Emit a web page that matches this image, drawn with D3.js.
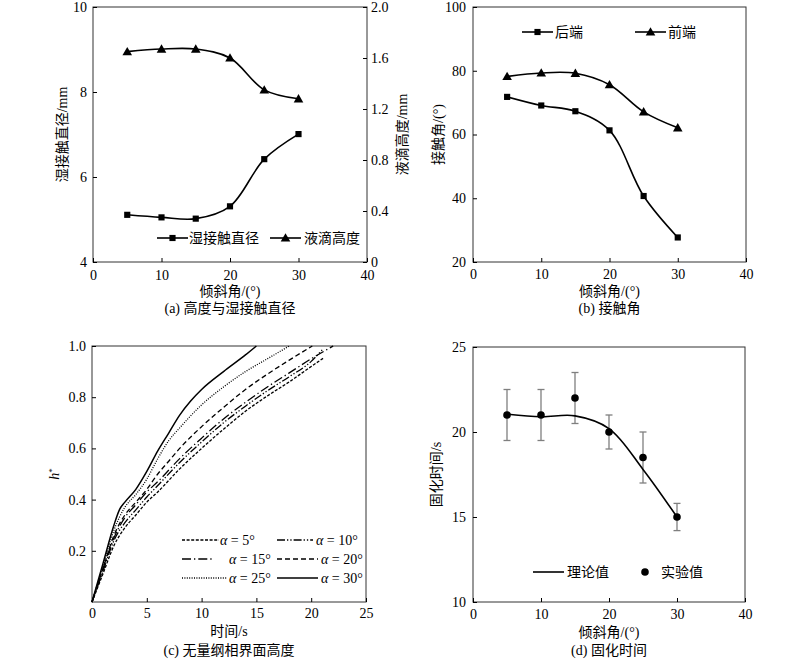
<!DOCTYPE html>
<html>
<head>
<meta charset="utf-8">
<script src="https://cdn.jsdelivr.net/npm/d3@7"></script>
<style>
  body { margin: 0; background: #fff; }
  text { font-family: "Liberation Serif", "Noto Sans CJK SC", serif; fill: #000; }
  .axis path, .axis line { stroke: #000; stroke-width: 1; }
  .axis text { font-size: 14px; }
</style>
</head>
<body>
<svg id="chart" width="800" height="659"></svg>
<script>
// (a) and (b): tilt angle data
var angles = [5, 10, 15, 20, 25, 30];
var wetDiameter = [5.11, 5.05, 5.02, 5.31, 6.42, 7.01];
var dropHeight = [1.65, 1.67, 1.67, 1.60, 1.35, 1.28];
var rearAngle = [71.8, 69.1, 67.3, 61.3, 40.7, 27.7];
var frontAngle = [78.2, 79.3, 79.2, 75.6, 67.1, 62.1];

// (c): dimensionless interface height vs time
var t5 = [0, 1, 2, 3, 4, 5, 6, 8, 10, 12, 14, 16, 18, 20, 21.2];
var h5 = [0, 0.11, 0.22, 0.29, 0.34, 0.39, 0.43, 0.52, 0.60, 0.675, 0.745, 0.805, 0.86, 0.92, 0.955];
var t10 = [0, 1, 2, 3, 4, 5, 6, 8, 10, 12, 14, 16, 18, 20, 21];
var h10 = [0, 0.12, 0.24, 0.31, 0.36, 0.41, 0.455, 0.545, 0.625, 0.70, 0.765, 0.825, 0.88, 0.94, 0.985];
var t15 = [0, 1, 2, 3, 4, 5, 6, 8, 10, 12, 14, 16, 18, 20, 22];
var h15 = [0, 0.13, 0.25, 0.33, 0.38, 0.43, 0.47, 0.56, 0.64, 0.715, 0.78, 0.84, 0.895, 0.95, 1.0];
var t20 = [0, 1, 2, 3, 4, 5, 6, 7, 8, 10, 12, 14, 16, 18, 20.1];
var h20 = [0, 0.13, 0.26, 0.34, 0.39, 0.44, 0.50, 0.55, 0.60, 0.685, 0.76, 0.83, 0.89, 0.945, 1.0];
var t25 = [0, 1, 2, 3, 4, 5, 6, 7, 8, 10, 12, 14, 16, 18];
var h25 = [0, 0.14, 0.28, 0.37, 0.42, 0.48, 0.56, 0.63, 0.68, 0.77, 0.84, 0.90, 0.95, 1.0];
var t30 = [0, 1, 2, 2.5, 3, 4, 5, 6, 7, 8, 9, 10, 12, 14, 15];
var h30 = [0, 0.15, 0.30, 0.36, 0.39, 0.44, 0.51, 0.59, 0.66, 0.73, 0.785, 0.83, 0.90, 0.965, 1.0];
var alphaLabels = ["α = 5°", "α = 10°", "α = 15°", "α = 20°", "α = 25°", "α = 30°"];

// (d): solidification time
var timeTheory = [21.05, 20.9, 20.95, 20.2, 17.8, 15.0];
var timeExp = [21, 21, 22, 20, 18.5, 15];
var expLow = [19.5, 19.5, 20.5, 19.0, 17.0, 14.2];
var expHigh = [22.5, 22.5, 23.5, 21.0, 20.0, 15.8];

var svg = d3.select("#chart");
svg.append("rect").attr("width", 800).attr("height", 659).attr("fill", "#fff");

function zip(xs, ys) {
    return xs.map(function (d, i) { return [d, ys[i]]; });
}

// frame + inner ticks for one panel
function panel(box, xDom, xTicks, yDom, yTicks, opt) {
    var g = svg.append("g");
    var x = d3.scaleLinear().domain(xDom).range([box.x0, box.x1]);
    var y = d3.scaleLinear().domain(yDom).range([box.y1, box.y0]);

    g.append("rect")
        .attr("x", box.x0).attr("y", box.y0)
        .attr("width", box.x1 - box.x0).attr("height", box.y1 - box.y0)
        .attr("fill", "none").attr("stroke", "#333").attr("stroke-width", 1);

    g.append("g").attr("class", "axis")
        .attr("transform", "translate(0," + box.y1 + ")")
        .call(d3.axisBottom(x).tickValues(xTicks).tickSizeInner(-4).tickSizeOuter(0).tickPadding(opt.xPad))
        .call(function (s) { s.select(".domain").remove(); });

    g.append("g").attr("class", "axis")
        .attr("transform", "translate(" + box.x0 + ",0)")
        .call(d3.axisLeft(y).tickValues(yTicks).tickFormat(opt.yFmt || d3.format("d"))
            .tickSizeInner(-4).tickSizeOuter(0).tickPadding(opt.yPad))
        .call(function (s) { s.select(".domain").remove(); });

    var cx = (box.x0 + box.x1) / 2;
    g.append("text").attr("x", cx).attr("y", opt.titleY)
        .attr("text-anchor", "middle").style("font-size", "14px").text(opt.xTitle);
    g.append("text").attr("x", cx).attr("y", opt.capY)
        .attr("text-anchor", "middle").style("font-size", "14px").text(opt.caption);

    var yt = g.append("text")
        .attr("transform", "translate(" + opt.yTitleX + "," + ((box.y0 + box.y1) / 2) + ") rotate(-90)")
        .attr("text-anchor", "middle").attr("dy", "0.35em").style("font-size", "14px");
    if (opt.yTitleItalic) {
        yt.append("tspan").style("font-style", "italic").text("h");
        yt.append("tspan").attr("dy", "-0.45em").style("font-size", "9px").text("*");
    } else {
        yt.text(opt.yTitle);
    }
    return { g: g, x: x, y: y };
}

function marker(g, type, px, py) {
    var sym = type === "square" ? d3.symbolSquare : d3.symbolTriangle;
    var size = type === "square" ? 38 : 40;
    g.append("path")
        .attr("d", d3.symbol().type(sym).size(size)())
        .attr("transform", "translate(" + px + "," + (type === "square" ? py : py + 0.8) + ")")
        .attr("fill", "#000");
}

var smooth = d3.curveCatmullRom.alpha(0.5);

// ---------- (a) ----------
var boxA = { x0: 93, x1: 367, y0: 7, y1: 262 };
var pa = panel(boxA, [0, 40], [0, 10, 20, 30, 40], [4, 10], [4, 6, 8, 10], {
    xPad: 8, yPad: 6, titleY: 296, capY: 313,
    xTitle: "倾斜角/(°)", caption: "(a) 高度与湿接触直径",
    yTitleX: 62, yTitle: "湿接触直径/mm"
});
var yA2 = d3.scaleLinear().domain([0, 2]).range([boxA.y1, boxA.y0]);
pa.g.append("g").attr("class", "axis")
    .attr("transform", "translate(" + boxA.x1 + ",0)")
    .call(d3.axisRight(yA2).tickValues([0, 0.4, 0.8, 1.2, 1.6, 2.0])
        .tickFormat(function (d) { return d === 0 ? "0" : d3.format(".1f")(d); })
        .tickSizeInner(-4).tickSizeOuter(0).tickPadding(4))
    .call(function (s) { s.select(".domain").remove(); });
pa.g.append("text")
    .attr("transform", "translate(402," + ((boxA.y0 + boxA.y1) / 2) + ") rotate(-90)")
    .attr("text-anchor", "middle").attr("dy", "0.35em").style("font-size", "14px")
    .text("液滴高度/mm");

var lineA1 = d3.line().x(function (d) { return pa.x(d[0]); }).y(function (d) { return pa.y(d[1]); }).curve(smooth);
var lineA2 = d3.line().x(function (d) { return pa.x(d[0]); }).y(function (d) { return yA2(d[1]); }).curve(smooth);
pa.g.append("path").attr("d", lineA1(zip(angles, wetDiameter)))
    .attr("fill", "none").attr("stroke", "#000").attr("stroke-width", 1.6);
pa.g.append("path").attr("d", lineA2(zip(angles, dropHeight)))
    .attr("fill", "none").attr("stroke", "#000").attr("stroke-width", 1.6);
angles.forEach(function (a, i) {
    marker(pa.g, "square", pa.x(a), pa.y(wetDiameter[i]));
    marker(pa.g, "triangle", pa.x(a), yA2(dropHeight[i]));
});
// legend (a)
[["square", 157, 189, "湿接触直径"], ["triangle", 270, 304, "液滴高度"]].forEach(function (l) {
    pa.g.append("line").attr("x1", l[1]).attr("x2", l[1] + 31).attr("y1", 238).attr("y2", 238)
        .attr("stroke", "#000").attr("stroke-width", 1.6);
    marker(pa.g, l[0], l[1] + 15.5, 238);
    pa.g.append("text").attr("x", l[2]).attr("y", 238).attr("dy", "0.36em")
        .style("font-size", "14px").text(l[3]);
});

// ---------- (b) ----------
var boxB = { x0: 473, x1: 746, y0: 7, y1: 262 };
var pb = panel(boxB, [0, 40], [0, 10, 20, 30, 40], [20, 100], [20, 40, 60, 80, 100], {
    xPad: 7, yPad: 7, titleY: 296, capY: 313,
    xTitle: "倾斜角/(°)", caption: "(b) 接触角",
    yTitleX: 438, yTitle: "接触角/(°)"
});
var lineB = d3.line().x(function (d) { return pb.x(d[0]); }).y(function (d) { return pb.y(d[1]); }).curve(smooth);
[rearAngle, frontAngle].forEach(function (s) {
    pb.g.append("path").attr("d", lineB(zip(angles, s)))
        .attr("fill", "none").attr("stroke", "#000").attr("stroke-width", 1.6);
});
angles.forEach(function (a, i) {
    marker(pb.g, "square", pb.x(a), pb.y(rearAngle[i]));
    marker(pb.g, "triangle", pb.x(a), pb.y(frontAngle[i]));
});
[["square", 522, 555, "后端"], ["triangle", 635, 668, "前端"]].forEach(function (l) {
    pb.g.append("line").attr("x1", l[1]).attr("x2", l[1] + 31).attr("y1", 32).attr("y2", 32)
        .attr("stroke", "#000").attr("stroke-width", 1.6);
    marker(pb.g, l[0], l[1] + 15.5, 32);
    pb.g.append("text").attr("x", l[2]).attr("y", 32).attr("dy", "0.36em")
        .style("font-size", "14px").text(l[3]);
});

// ---------- (c) ----------
var boxC = { x0: 92, x1: 366, y0: 346, y1: 602 };
var pc = panel(boxC, [0, 25], [0, 5, 10, 15, 20, 25], [0, 1], [0.2, 0.4, 0.6, 0.8, 1.0], {
    xPad: 6, yPad: 6, titleY: 636, capY: 655, yFmt: d3.format(".1f"),
    xTitle: "时间/s", caption: "(c) 无量纲相界面高度",
    yTitleX: 54, yTitleItalic: true
});
var curvesC = [zip(t5, h5), zip(t10, h10), zip(t15, h15), zip(t20, h20), zip(t25, h25), zip(t30, h30)];
var dashC = ["3,1.6", "8,2,1.3,2,1.3,2", "9,3,1.3,3", "5,3", "1,1.4", null];
var lineC = d3.line().x(function (d) { return pc.x(d[0]); }).y(function (d) { return pc.y(d[1]); }).curve(d3.curveMonotoneX);
curvesC.forEach(function (c, i) {
    pc.g.append("path").attr("d", lineC(c))
        .attr("fill", "none").attr("stroke", "#000")
        .attr("stroke-width", i === 5 ? 1.5 : 1.3)
        .attr("stroke-dasharray", dashC[i]);
});
// legend (c)
var legC = [
    { x1: 182, x2: 219, tx: 220, y: 540 }, { x1: 277, x2: 313, tx: 316, y: 540 },
    { x1: 182, x2: 213, tx: 229, y: 559 }, { x1: 277, x2: 318, tx: 321, y: 559 },
    { x1: 182, x2: 227, tx: 229, y: 578 }, { x1: 277, x2: 318, tx: 321, y: 578 }
];
legC.forEach(function (l, i) {
    pc.g.append("line").attr("x1", l.x1).attr("x2", l.x2).attr("y1", l.y).attr("y2", l.y)
        .attr("stroke", "#000").attr("stroke-width", i === 5 ? 1.5 : 1.3)
        .attr("stroke-dasharray", dashC[i]);
    var tx = pc.g.append("text").attr("x", l.tx).attr("y", l.y).attr("dy", "0.36em")
        .style("font-size", "14px");
    tx.append("tspan").style("font-style", "italic").text("α");
    tx.append("tspan").text(alphaLabels[i].slice(1));
});

// ---------- (d) ----------
var boxD = { x0: 473, x1: 745, y0: 347, y1: 602 };
var pd = panel(boxD, [0, 40], [0, 10, 20, 30, 40], [10, 25], [10, 15, 20, 25], {
    xPad: 7, yPad: 7, titleY: 637, capY: 655,
    xTitle: "倾斜角/(°)", caption: "(d) 固化时间",
    yTitleX: 436, yTitle: "固化时间/s"
});
var lineD = d3.line().x(function (d) { return pd.x(d[0]); }).y(function (d) { return pd.y(d[1]); }).curve(smooth);
angles.forEach(function (a, i) {
    var px = pd.x(a);
    pd.g.append("line").attr("x1", px).attr("x2", px)
        .attr("y1", pd.y(expLow[i])).attr("y2", pd.y(expHigh[i]))
        .attr("stroke", "#7f7f7f").attr("stroke-width", 1.3);
    [expLow[i], expHigh[i]].forEach(function (v) {
        pd.g.append("line").attr("x1", px - 3.5).attr("x2", px + 3.5)
            .attr("y1", pd.y(v)).attr("y2", pd.y(v))
            .attr("stroke", "#7f7f7f").attr("stroke-width", 1.3);
    });
});
pd.g.append("path").attr("d", lineD(zip(angles, timeTheory)))
    .attr("fill", "none").attr("stroke", "#000").attr("stroke-width", 1.6);
angles.forEach(function (a, i) {
    pd.g.append("circle").attr("cx", pd.x(a)).attr("cy", pd.y(timeExp[i])).attr("r", 3.8).attr("fill", "#000");
});
pd.g.append("line").attr("x1", 533).attr("x2", 564).attr("y1", 572).attr("y2", 572)
    .attr("stroke", "#000").attr("stroke-width", 1.6);
pd.g.append("text").attr("x", 567).attr("y", 572).attr("dy", "0.36em").style("font-size", "14px").text("理论值");
pd.g.append("circle").attr("cx", 645).attr("cy", 572).attr("r", 3.8).attr("fill", "#000");
pd.g.append("text").attr("x", 661).attr("y", 572).attr("dy", "0.36em").style("font-size", "14px").text("实验值");
</script>
</body>
</html>
